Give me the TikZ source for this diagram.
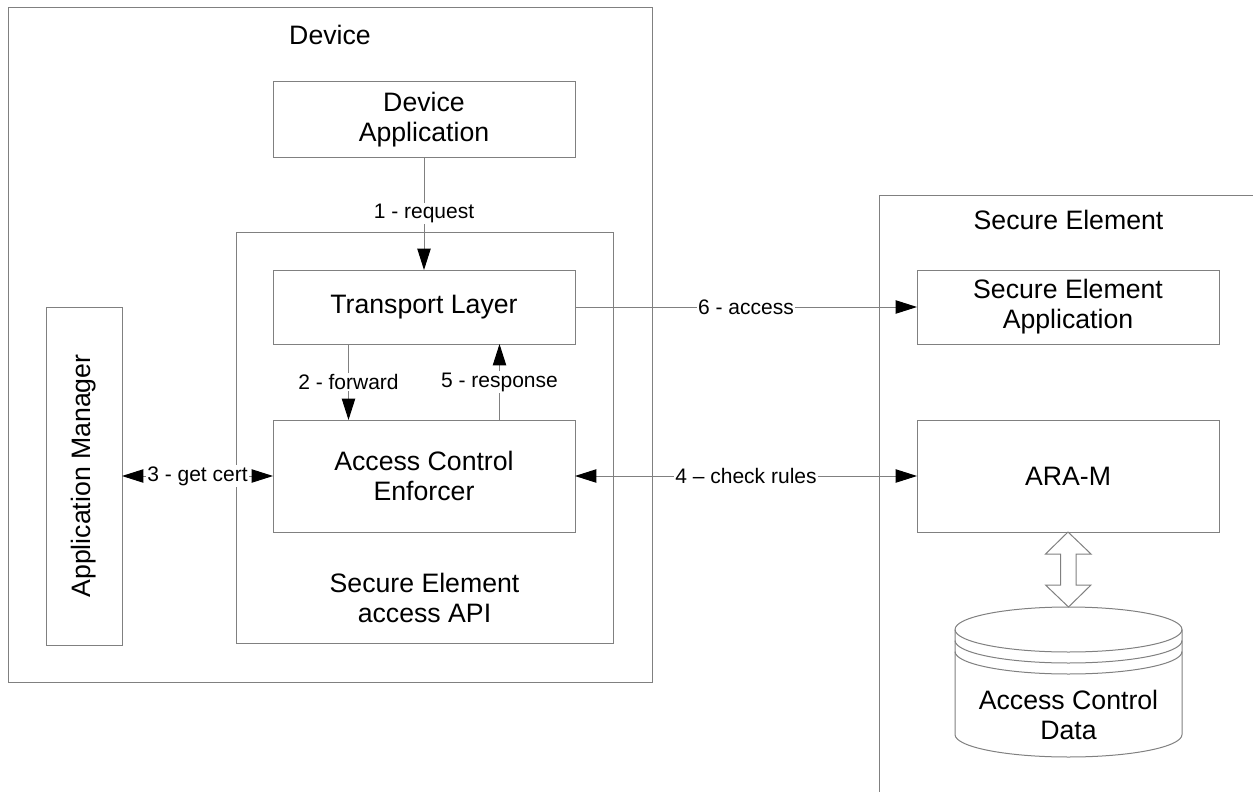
\documentclass[tikz,border=0pt]{standalone}
\usepackage{fontspec}
\setmainfont{Liberation Sans}
\usetikzlibrary{positioning,calc,arrows.meta}

\begin{document}
\begin{tikzpicture}[x=0.75pt,y=-0.75pt,node distance=2mm]
	\tikzset{
		mybox/.style={rectangle, draw=black!50, line width=.75pt, minimum width=226.5pt, inner sep=0pt, outer sep=0pt, align=center, font=\fontsize{20}{22.5}\selectfont},
		mygroup/.style={rectangle, draw=black!50, line width=.75pt, inner sep=0pt, outer sep=0pt},
		myline/.style={draw=black!50, line width=.75pt},
		mytitle/.style={align=center, font=\fontsize{20}{22.5}\selectfont},
		myarrow/.style={->, draw=black!50, line width=.75pt},
		myarrow1/.style={<->, draw=black!50, line width=.75pt},
		mylabel/.style={fill=white, inner sep=1pt, text=black, font=\fontsize{15.75}{18}\selectfont},
		>={Triangle[length=16pt,width=10pt,color=black]}
	}
	\useasboundingbox (0,0) rectangle (1253,792);
	\clip (0,0) rectangle (1253,792);

	% groups
	\node[mygroup, minimum width=483pt, minimum height=505.5pt] (device) at (330,345) {};
	\node[mytitle] (devicetitle) at (330,35) {Device};
	\node[mygroup, minimum width=282.75pt, minimum height=308.25pt] (api) at (424.5,437.5) {};
	\node[mytitle] (apititle) at (424.5,598) {Secure Element\\access API};
	\node[mygroup, minimum width=450pt, minimum height=600pt, anchor=north west] (se) at (879,195) {};
	\node[mytitle] (setitle) at (1068.5,220) {Secure Element};

	% boxes
	\node[mybox, minimum height=56.25pt] (devapp) at (424,119.5) {Device\\Application};
	\node[mybox, minimum height=55.5pt, below=84.75pt of devapp] (transport) {Transport Layer};
	\node[mybox, minimum height=84pt, below=57pt of transport] (ace) {Access Control\\Enforcer};
	\node[mybox, minimum height=55.5pt, right=256.5pt of transport] (seapp) {Secure Element\\Application};
	\node[mybox, minimum height=84pt, right=256.5pt of ace] (aram) {ARA-M};
	\node[mybox, minimum width=57pt, minimum height=253.5pt, left=113.25pt of ace] (appmgr) {\rotatebox{90}{Application Manager}};

	% data store
	\draw[myline, fill=white] (955,629.5) -- (955,734.5) arc[start angle=180, end angle=360, x radius=85.125pt, y radius=16.875pt] -- (1182,629.5) arc[start angle=0, end angle=180, x radius=85.125pt, y radius=16.875pt] -- cycle;
	\foreach \dy in {0,11,22}
		\draw[myline] (955,629.5+\dy) arc[start angle=180, end angle=360, x radius=85.125pt, y radius=16.875pt];
	\node[mytitle] (acdata) at (1068.5,715) {Access Control\\Data};
	\coordinate (dbtop) at (1068.5,607);
	\draw[myline] (aram.south) -- ++(23,22) -- ++(-15,0) -- ++(0,31) -- ++(15,0) -- (dbtop) -- ++(-23,-22) -- ++(15,0) -- ++(0,-31) -- ++(-15,0) -- cycle;

	\draw[myarrow] (devapp) -- (transport) node[midway, mylabel] {1 - request};
	\draw[myarrow] ($(transport.south west)!.25!(transport.south east)$) -- ($(ace.north west)!.25!(ace.north east)$) node[midway, mylabel] {2 - forward};
	\draw[myarrow] ($(ace.north west)!.75!(ace.north east)$) -- ($(transport.south west)!.75!(transport.south east)$) node[midway, mylabel] {5 - response};
	\draw[myarrow1] (appmgr) -- (ace) node[midway, mylabel] {3 - get cert};
	\draw[myarrow1] (ace) -- (aram) node[midway, mylabel] {4 – check rules};
	\draw[myarrow] (transport) -- (seapp) node[midway, mylabel] {6 - access};
\end{tikzpicture}
\end{document}
